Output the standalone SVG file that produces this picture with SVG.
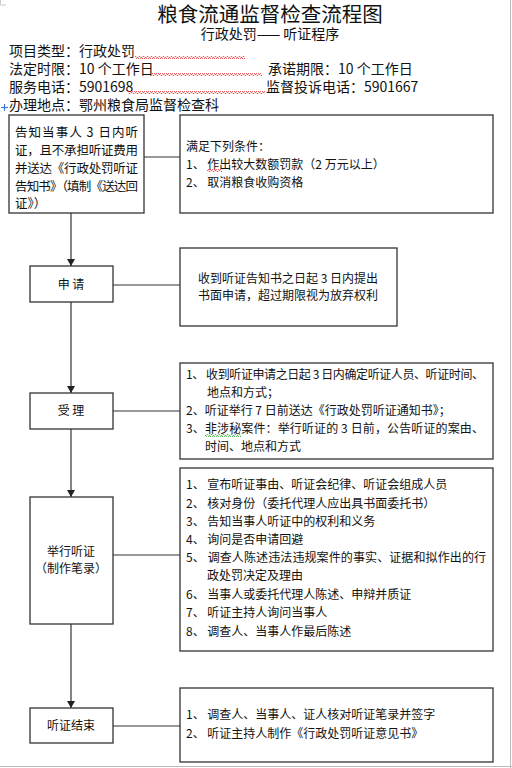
<svg xmlns="http://www.w3.org/2000/svg" width="512" height="768" viewBox="0 0 512 768">
<defs>
<style>
text{font-family:"Noto Sans CJK SC","Liberation Sans",sans-serif;fill:#111}
.box{fill:#fff;stroke:#333;stroke-width:1.3}
.line{stroke:#333;stroke-width:1.2;fill:none}
.info{font-size:14px}
.t{font-size:12px}
.b1{font-size:12.5px}
.c{text-anchor:middle}
</style>
<pattern id="wavyR" width="4" height="3" patternUnits="userSpaceOnUse">
<polyline points="0,2.5 1,0.5 2,0.5 3,2.5 4,2.5" fill="none" stroke="#e33" stroke-width="0.8"/>
</pattern>
<pattern id="wavyG" width="4" height="3" patternUnits="userSpaceOnUse">
<polyline points="0,2.5 1,0.5 2,0.5 3,2.5 4,2.5" fill="none" stroke="#3a3" stroke-width="0.8"/>
</pattern>
<marker id="arr" markerWidth="8" markerHeight="8" refX="7" refY="4" orient="auto" markerUnits="userSpaceOnUse">
<path d="M0,0 L7,4 L0,8 Z" fill="#222"/>
</marker>
</defs>
<rect width="512" height="768" fill="#fff"/>
<line x1="510.5" y1="0" x2="510.5" y2="768" stroke="#bbb" stroke-width="1"/>
<line x1="0" y1="766.5" x2="512" y2="766.5" stroke="#bbb" stroke-width="1"/>
<path d="M0.5,0 V5 H6" stroke="#ccc" fill="none"/>

<g id="header">
<text x="270" y="22" class="c" style="font-size:20.5px">粮食流通监督检查流程图</text>
<text x="270" y="38.5" class="c" style="font-size:14px">行政处罚—— 听证程序</text>
<text x="9" y="56" class="info">项目类型：行政处罚</text>
<rect x="135" y="56" width="110" height="3" fill="url(#wavyR)"/>
<text x="9" y="74" class="info">法定时限：10 个工作日</text>
<rect x="152" y="73" width="110" height="3" fill="url(#wavyR)"/>
<text x="268" y="74" class="info">承诺期限：10 个工作日</text>
<text x="9" y="92" class="info">服务电话：5901698</text>
<rect x="128" y="91" width="137" height="3" fill="url(#wavyR)"/>
<text x="266" y="92" class="info">监督投诉电话：5901667</text>
<text x="9" y="110" class="info">办理地点：鄂州粮食局监督检查科</text>
<g stroke="#3b78d8" stroke-width="1.2">
<line x1="1" y1="107.5" x2="8" y2="107.5"/>
<line x1="4.5" y1="104" x2="4.5" y2="111"/>
</g>
</g>

<g id="connectors">
<line class="line" x1="144" y1="157" x2="180" y2="157"/>
<line class="line" x1="71" y1="213" x2="71" y2="266" marker-end="url(#arr)"/>
<line class="line" x1="113" y1="285" x2="180" y2="285"/>
<line class="line" x1="71" y1="302" x2="71" y2="393" marker-end="url(#arr)"/>
<line class="line" x1="113" y1="411" x2="180" y2="411"/>
<line class="line" x1="71" y1="429" x2="71" y2="497" marker-end="url(#arr)"/>
<line class="line" x1="113" y1="555" x2="180" y2="555"/>
<line class="line" x1="71" y1="624" x2="71" y2="708" marker-end="url(#arr)"/>
<line class="line" x1="113" y1="726" x2="180" y2="726"/>
</g>

<g id="notify">
<rect class="box" x="9" y="115" width="135" height="98"/>
<text class="b1" x="15" y="137" textLength="123" lengthAdjust="spacing">告知当事人 3 日内听</text>
<text class="b1" x="15" y="155" textLength="123" lengthAdjust="spacing">证，且不承担听证费用</text>
<text class="b1" x="15" y="173" textLength="123" lengthAdjust="spacing">并送达《行政处罚听证</text>
<text class="b1" x="15" y="191" textLength="123" lengthAdjust="spacing">告知书》（填制《送达回</text>
<text class="b1" x="15" y="208">证》）</text>
</g>

<g id="conditions">
<rect class="box" x="180" y="115" width="313" height="98"/>
<text class="t" x="186" y="151">满足下列条件：</text>
<text class="t" x="186" y="169">1、 作出较大数额罚款（2 万元以上）</text>
<rect x="207" y="169" width="15" height="3" fill="url(#wavyR)"/>
<text class="t" x="186" y="187">2、 取消粮食收购资格</text>
</g>

<g id="apply">
<rect class="box" x="30" y="266" width="83" height="36"/>
<text class="t c" x="71" y="289">申 请</text>
</g>
<g id="apply-note">
<rect class="box" x="180" y="248" width="217" height="78"/>
<text class="t c" x="288" y="283">收到听证告知书之日起 3 日内提出</text>
<text class="t c" x="288" y="300">书面申请，超过期限视为放弃权利</text>
</g>

<g id="accept">
<rect class="box" x="30" y="393" width="83" height="36"/>
<text class="t c" x="71" y="415">受 理</text>
</g>
<g id="accept-note">
<rect class="box" x="180" y="363" width="313" height="96"/>
<text class="t" x="186" y="379" textLength="298" lengthAdjust="spacing">1、 收到听证申请之日起 3 日内确定听证人员、听证时间、</text>
<text class="t" x="207" y="397">地点和方式；</text>
<text class="t" x="186" y="415">2、听证举行 7 日前送达《行政处罚听证通知书》；</text>
<text class="t" x="186" y="433" textLength="298" lengthAdjust="spacing">3、非涉秘案件：举行听证的 3 日前，公告听证的案由、</text>
<rect x="205" y="434" width="36" height="3" fill="url(#wavyG)"/>
<text class="t" x="205" y="451">时间、地点和方式</text>
</g>

<g id="hearing">
<rect class="box" x="30" y="497" width="83" height="127"/>
<text class="t c" x="71" y="556">举行听证</text>
<text class="t c" x="71" y="573">（制作笔录）</text>
</g>
<g id="hearing-note">
<rect class="box" x="180" y="468" width="313" height="183"/>
<text class="t" x="186" y="489">1、 宣布听证事由、听证会纪律、听证会组成人员</text>
<text class="t" x="186" y="508">2、 核对身份（委托代理人应出具书面委托书）</text>
<text class="t" x="186" y="526">3、 告知当事人听证中的权利和义务</text>
<text class="t" x="186" y="544">4、 询问是否申请回避</text>
<text class="t" x="186" y="562" textLength="300" lengthAdjust="spacing">5、 调查人陈述违法违规案件的事实、证据和拟作出的行</text>
<text class="t" x="207" y="580">政处罚决定及理由</text>
<text class="t" x="186" y="599">6、 当事人或委托代理人陈述、申辩并质证</text>
<text class="t" x="186" y="617">7、 听证主持人询问当事人</text>
<text class="t" x="186" y="636">8、 调查人、当事人作最后陈述</text>
</g>

<g id="end">
<rect class="box" x="30" y="708" width="83" height="35"/>
<text class="t c" x="71" y="730">听证结束</text>
</g>
<g id="end-note">
<rect class="box" x="180" y="688" width="313" height="74"/>
<text class="t" x="186" y="719">1、 调查人、当事人、证人核对听证笔录并签字</text>
<text class="t" x="186" y="738">2、 听证主持人制作《行政处罚听证意见书》</text>
</g>
</svg>
